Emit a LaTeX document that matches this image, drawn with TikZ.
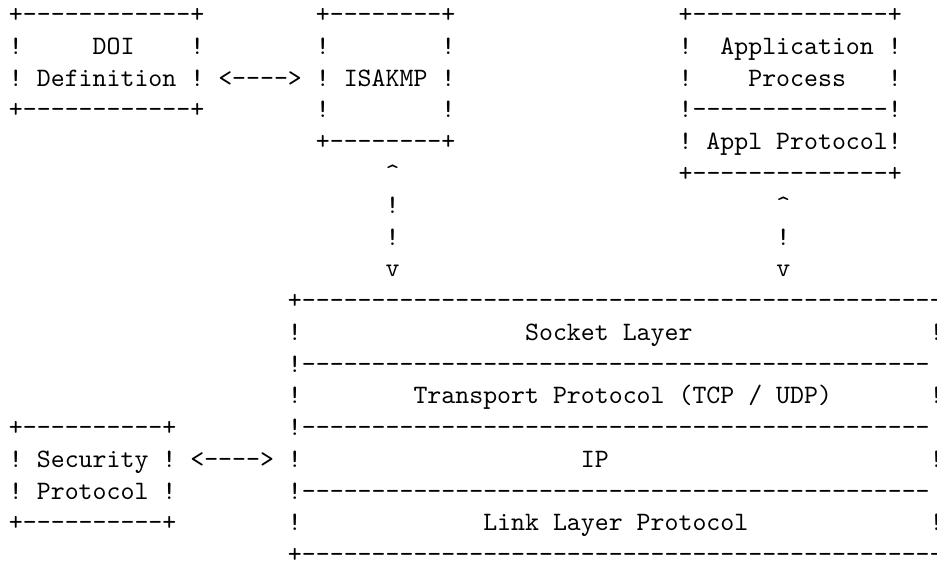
\documentclass[tikz,border=0pt]{standalone}

% runs of blanks and dashes, one character cell each
\ExplSyntaxOn
\NewDocumentCommand\asciidash{m}{\prg_replicate:nn{#1}{-}}
\ExplSyntaxOff
\newcommand\asciigap[1]{\hspace*{#1\fontdimen2\font}}

\tikzset{
  ascii/.style={font=\ttfamily\frenchspacing, inner sep=0pt, outer sep=0pt, anchor=base west}
}

\begin{document}
% x: one character cell, y: one text line (downwards)
\begin{tikzpicture}[x=5.25pt, y=-11.953pt]
\clip (-0.645,-0.714) rectangle (66.524,16.981);

% DOI definition box
\node[ascii] (doi0) at (0,0) {+\asciidash{12}+};
\node[ascii] (doi1) at (0,1) {!\asciigap{5}DOI\asciigap{4}!};
\node[ascii] (doi2) at (0,2) {! Definition !};
\node[ascii] (doi3) at (0,3) {+\asciidash{12}+};
\node[ascii] (doiarrow) at (15,2) {<\asciidash{4}>};

% ISAKMP box
\node[ascii] (isa0) at (22,0) {+\asciidash{8}+};
\node[ascii] (isa1) at (22,1) {!\asciigap{8}!};
\node[ascii] (isa2) at (22,2) {! ISAKMP !};
\node[ascii] (isa3) at (22,3) {!\asciigap{8}!};
\node[ascii] (isa4) at (22,4) {+\asciidash{8}+};

% application box
\node[ascii] (app0) at (48,0) {+\asciidash{14}+};
\node[ascii] (app1) at (48,1) {!\asciigap{2}Application !};
\node[ascii] (app2) at (48,2) {!\asciigap{4}Process\asciigap{3}!};
\node[ascii] (app3) at (48,3) {!\asciidash{14}!};
\node[ascii] (app4) at (48,4) {! Appl Protocol!};
\node[ascii] (app5) at (48,5) {+\asciidash{14}+};

% ISAKMP <-> socket layer
\node[ascii] (up1)   at (27,5) {\textasciicircum};
\node[ascii] (bar1a) at (27,6) {!};
\node[ascii] (bar1b) at (27,7) {!};
\node[ascii] (down1) at (27,8) {v};

% application <-> socket layer
\node[ascii] (up2)   at (55,6) {\textasciicircum};
\node[ascii] (bar2)  at (55,7) {!};
\node[ascii] (down2) at (55,8) {v};

% protocol stack
\node[ascii] (stack0) at (20,9)  {+\asciidash{46}};
\node[ascii] (sock)   at (20,10) {!\asciigap{16}Socket Layer\asciigap{17}!};
\node[ascii] (rule1)  at (20,11) {!\asciidash{45}};
\node[ascii] (trans)  at (20,12) {!\asciigap{8}Transport Protocol (TCP / UDP)\asciigap{7}!};
\node[ascii] (rule2)  at (20,13) {!\asciidash{45}};
\node[ascii] (ip)     at (20,14) {!\asciigap{20}IP\asciigap{23}!};
\node[ascii] (rule3)  at (20,15) {!\asciidash{45}};
\node[ascii] (link)   at (20,16) {!\asciigap{13}Link Layer Protocol\asciigap{13}!};
\node[ascii] (stack1) at (20,17) {+\asciidash{46}};

% security protocol box
\node[ascii] (sec0) at (0,13) {+\asciidash{10}+};
\node[ascii] (sec1) at (0,14) {! Security !};
\node[ascii] (sec2) at (0,15) {! Protocol !};
\node[ascii] (sec3) at (0,16) {+\asciidash{10}+};
\node[ascii] (secarrow) at (13,14) {<\asciidash{4}>};
\end{tikzpicture}
\end{document}
